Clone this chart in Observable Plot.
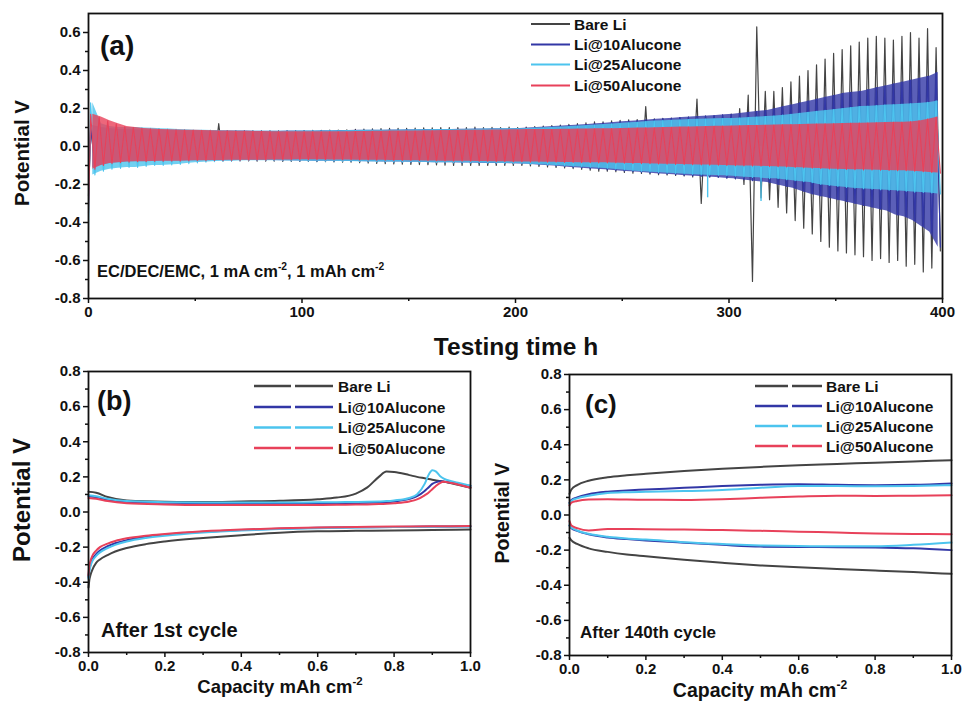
<!DOCTYPE html>
<html><head><meta charset="utf-8">
<script src="https://cdn.jsdelivr.net/npm/d3@7"></script>
<script src="https://cdn.jsdelivr.net/npm/@observablehq/plot@0.6"></script>
<style>
body{margin:0;background:#fff;}
#wrap{position:relative;width:962px;height:704px;overflow:hidden;background:#fff;font-family:"Liberation Sans",Arial,sans-serif;}
#wrap svg{position:absolute;}
</style></head><body><div id="wrap"></div>
<script>
// ---------- shared ----------
const seriesNames = ["Bare Li", "Li@10Alucone", "Li@25Alucone", "Li@50Alucone"];
const seriesColors = ["#444444", "#3237a6", "#4cc4ee", "#e8415a"];

// ---------- panel (a): peak potentials of each 4 h sampled cycle ----------
const cycleHours = 4;
const aStart = [-0.26, -0.30, -0.44, -0.35];
const aUpBare = [0.10,0.10,0.095,0.09,0.09,0.09,0.088,0.088,0.086,0.086,
  0.085,0.085,0.084,0.084,0.085,0.12,0.084,0.083,0.083,0.083,
  0.082,0.082,0.083,0.083,0.084,0.084,0.085,0.085,0.086,0.086,
  0.088,0.09,0.092,0.093,0.094,0.095,0.096,0.096,0.097,0.098,
  0.098,0.1,0.1,0.1,0.1,0.102,0.1,0.101,0.1,0.102,
  0.10,0.102,0.105,0.108,0.11,0.113,0.116,0.12,0.125,0.13,
  0.13,0.135,0.138,0.14,0.142,0.21,0.145,0.148,0.15,0.152,
  0.155,0.25,0.16,0.16,0.165,0.17,0.2,0.27,0.63,0.29,
  0.29,0.31,0.34,0.37,0.40,0.43,0.46,0.49,0.51,0.53,
  0.55,0.57,0.58,0.57,0.56,0.58,0.6,0.57,0.62,0.52];
const aLoBare = [-0.10,-0.09,-0.085,-0.085,-0.082,-0.08,-0.08,-0.08,-0.078,-0.078,
  -0.078,-0.077,-0.077,-0.076,-0.076,-0.076,-0.076,-0.076,-0.076,-0.077,
  -0.077,-0.077,-0.078,-0.078,-0.078,-0.079,-0.08,-0.08,-0.081,-0.082,
  -0.083,-0.085,-0.087,-0.089,-0.09,-0.092,-0.093,-0.094,-0.095,-0.096,
  -0.097,-0.098,-0.1,-0.1,-0.1,-0.1,-0.1,-0.1,-0.1,-0.1,
  -0.1,-0.102,-0.105,-0.108,-0.11,-0.113,-0.116,-0.12,-0.125,-0.13,
  -0.13,-0.133,-0.136,-0.14,-0.142,-0.145,-0.148,-0.15,-0.152,-0.155,
  -0.16,-0.30,-0.16,-0.16,-0.165,-0.17,-0.2,-0.71,-0.27,-0.28,
  -0.32,-0.35,-0.39,-0.43,-0.46,-0.5,-0.53,-0.55,-0.56,-0.57,
  -0.58,-0.6,-0.59,-0.61,-0.6,-0.63,-0.62,-0.66,-0.64,-0.55];
const aUp10 = [0.11,0.1,0.095,0.09,0.09,0.088,0.087,0.086,0.085,0.085,
  0.084,0.083,0.083,0.082,0.082,0.082,0.081,0.081,0.081,0.08,
  0.08,0.08,0.08,0.081,0.081,0.082,0.082,0.083,0.083,0.084,
  0.084,0.085,0.085,0.086,0.086,0.087,0.087,0.088,0.088,0.089,
  0.089,0.09,0.09,0.091,0.091,0.092,0.092,0.093,0.093,0.094,
  0.095,0.097,0.1,0.102,0.105,0.108,0.11,0.113,0.116,0.12,
  0.123,0.126,0.13,0.133,0.136,0.14,0.143,0.146,0.149,0.152,
  0.155,0.158,0.16,0.163,0.167,0.17,0.175,0.18,0.185,0.19,
  0.2,0.21,0.22,0.23,0.24,0.25,0.26,0.27,0.28,0.285,
  0.29,0.3,0.31,0.32,0.33,0.34,0.35,0.36,0.37,0.39];
const aLo10 = [-0.11,-0.1,-0.09,-0.085,-0.082,-0.08,-0.08,-0.078,-0.078,-0.077,
  -0.077,-0.076,-0.076,-0.075,-0.075,-0.075,-0.075,-0.074,-0.074,-0.074,
  -0.074,-0.074,-0.075,-0.075,-0.076,-0.076,-0.077,-0.077,-0.078,-0.078,
  -0.079,-0.079,-0.08,-0.08,-0.081,-0.082,-0.082,-0.083,-0.083,-0.084,
  -0.085,-0.085,-0.086,-0.087,-0.087,-0.088,-0.089,-0.09,-0.09,-0.091,
  -0.092,-0.094,-0.097,-0.1,-0.103,-0.106,-0.11,-0.113,-0.117,-0.12,
  -0.123,-0.126,-0.13,-0.133,-0.136,-0.14,-0.143,-0.146,-0.149,-0.152,
  -0.155,-0.158,-0.16,-0.163,-0.167,-0.17,-0.175,-0.18,-0.185,-0.19,
  -0.2,-0.21,-0.22,-0.235,-0.25,-0.26,-0.27,-0.28,-0.29,-0.3,
  -0.31,-0.32,-0.33,-0.34,-0.36,-0.37,-0.39,-0.42,-0.45,-0.53];
const aUp25 = [0.23,0.12,0.105,0.1,0.1,0.1,0.098,0.096,0.094,0.092,
  0.09,0.088,0.086,0.085,0.084,0.083,0.082,0.081,0.08,0.08,
  0.08,0.08,0.08,0.08,0.081,0.081,0.082,0.082,0.083,0.083,
  0.084,0.084,0.085,0.085,0.086,0.086,0.087,0.087,0.088,0.088,
  0.089,0.089,0.09,0.09,0.091,0.091,0.092,0.092,0.093,0.093,
  0.094,0.095,0.097,0.099,0.101,0.103,0.105,0.108,0.11,0.113,
  0.116,0.119,0.122,0.125,0.128,0.131,0.134,0.136,0.138,0.14,
  0.142,0.144,0.145,0.146,0.147,0.148,0.15,0.152,0.155,0.158,
  0.16,0.165,0.17,0.175,0.18,0.185,0.19,0.195,0.2,0.205,
  0.21,0.212,0.215,0.218,0.22,0.222,0.225,0.228,0.232,0.24];
const aLo25 = [-0.15,-0.13,-0.12,-0.115,-0.11,-0.11,-0.105,-0.1,-0.1,-0.097,
  -0.095,-0.09,-0.086,-0.083,-0.08,-0.078,-0.077,-0.076,-0.075,-0.075,
  -0.075,-0.075,-0.075,-0.076,-0.076,-0.077,-0.077,-0.078,-0.078,-0.079,
  -0.079,-0.08,-0.08,-0.081,-0.081,-0.082,-0.082,-0.083,-0.083,-0.084,
  -0.085,-0.085,-0.086,-0.086,-0.087,-0.087,-0.088,-0.088,-0.089,-0.09,
  -0.091,-0.093,-0.095,-0.097,-0.1,-0.102,-0.105,-0.108,-0.11,-0.113,
  -0.116,-0.12,-0.124,-0.128,-0.131,-0.134,-0.137,-0.14,-0.142,-0.145,
  -0.147,-0.15,-0.151,-0.152,-0.154,-0.156,-0.16,-0.163,-0.165,-0.17,
  -0.17,-0.175,-0.18,-0.185,-0.19,-0.2,-0.205,-0.21,-0.215,-0.22,
  -0.222,-0.225,-0.228,-0.23,-0.233,-0.236,-0.24,-0.242,-0.245,-0.25];
// isolated single-cycle spikes of Li@25Alucone (time h, potential V)
const aSpikeT25 = [290, 315];
const aSpikeV25 = [-0.27, -0.29];
const aUp50 = [0.17,0.155,0.135,0.12,0.105,0.1,0.095,0.092,0.09,0.088,
  0.087,0.086,0.085,0.084,0.083,0.082,0.081,0.08,0.08,0.079,
  0.079,0.078,0.078,0.078,0.077,0.077,0.077,0.077,0.078,0.078,
  0.078,0.079,0.079,0.08,0.08,0.081,0.081,0.082,0.082,0.083,
  0.083,0.084,0.084,0.085,0.085,0.086,0.086,0.087,0.087,0.088,
  0.088,0.089,0.089,0.09,0.09,0.091,0.091,0.092,0.092,0.093,
  0.093,0.094,0.095,0.096,0.097,0.098,0.099,0.1,0.101,0.102,
  0.103,0.104,0.105,0.106,0.107,0.108,0.109,0.11,0.111,0.112,
  0.113,0.114,0.115,0.116,0.117,0.118,0.119,0.12,0.121,0.122,
  0.123,0.124,0.125,0.126,0.127,0.128,0.13,0.135,0.145,0.155];
const aLo50 = [-0.12,-0.1,-0.09,-0.085,-0.082,-0.08,-0.08,-0.079,-0.078,-0.077,
  -0.077,-0.076,-0.075,-0.075,-0.074,-0.074,-0.073,-0.073,-0.072,-0.072,
  -0.072,-0.071,-0.071,-0.071,-0.07,-0.07,-0.07,-0.07,-0.071,-0.071,
  -0.071,-0.072,-0.072,-0.073,-0.073,-0.074,-0.074,-0.075,-0.075,-0.076,
  -0.076,-0.077,-0.077,-0.078,-0.078,-0.079,-0.079,-0.08,-0.08,-0.081,
  -0.081,-0.082,-0.082,-0.083,-0.083,-0.084,-0.084,-0.085,-0.085,-0.086,
  -0.086,-0.087,-0.088,-0.089,-0.09,-0.091,-0.092,-0.093,-0.094,-0.095,
  -0.096,-0.097,-0.098,-0.099,-0.1,-0.101,-0.102,-0.103,-0.104,-0.105,
  -0.106,-0.108,-0.11,-0.112,-0.114,-0.116,-0.118,-0.12,-0.121,-0.122,
  -0.123,-0.124,-0.125,-0.126,-0.127,-0.128,-0.13,-0.133,-0.137,-0.14];
const aUps = [aUpBare, aUp10, aUp25, aUp50];
const aLos = [aLoBare, aLo10, aLo25, aLo50];
const aXTicks = [0, 100, 200, 300, 400];
const aXMinor = [50, 150, 250, 350];
const aYTicks = [-0.8, -0.6, -0.4, -0.2, 0, 0.2, 0.4, 0.6];
const aYMinor = [-0.7, -0.5, -0.3, -0.1, 0.1, 0.3, 0.5];

// ---------- panel (b): after 1st cycle ----------
const bCapUp = [0,0.02,0.05,0.1,0.2,0.3,0.4,0.5,0.6,0.65,0.7,0.73,0.76,0.78,0.8,0.84,0.86,0.88,0.89,0.9,0.91,0.92,0.93,0.95,0.97,1.0];
const bUpBare = [0.115,0.11,0.085,0.065,0.058,0.057,0.06,0.064,0.073,0.082,0.105,0.14,0.2,0.23,0.228,0.21,0.2,0.192,0.188,0.184,0.18,0.177,0.173,0.163,0.153,0.138];
const bUp10 = [0.09,0.085,0.07,0.058,0.052,0.05,0.05,0.05,0.05,0.05,0.051,0.052,0.054,0.056,0.06,0.075,0.09,0.12,0.14,0.16,0.17,0.175,0.173,0.168,0.16,0.148];
const bUp25 = [0.095,0.09,0.075,0.062,0.056,0.054,0.054,0.054,0.055,0.056,0.057,0.058,0.06,0.062,0.066,0.08,0.1,0.16,0.21,0.238,0.23,0.205,0.19,0.175,0.165,0.15];
const bUp50 = [0.08,0.075,0.062,0.05,0.043,0.04,0.04,0.04,0.04,0.041,0.042,0.043,0.045,0.047,0.05,0.06,0.072,0.095,0.11,0.13,0.15,0.165,0.172,0.165,0.155,0.138];
const bCapLo = [0,0.002,0.005,0.01,0.02,0.03,0.05,0.07,0.1,0.15,0.2,0.3,0.4,0.5,0.6,0.7,0.8,0.9,1.0];
const bLoBare = [-0.43,-0.39,-0.36,-0.33,-0.29,-0.27,-0.245,-0.225,-0.205,-0.183,-0.168,-0.148,-0.132,-0.118,-0.11,-0.107,-0.105,-0.103,-0.1];
const bLo10 = [-0.37,-0.33,-0.3,-0.27,-0.24,-0.22,-0.195,-0.178,-0.16,-0.142,-0.13,-0.113,-0.102,-0.095,-0.09,-0.087,-0.085,-0.083,-0.081];
const bLo25 = [-0.38,-0.34,-0.31,-0.28,-0.25,-0.23,-0.205,-0.187,-0.168,-0.148,-0.135,-0.117,-0.105,-0.097,-0.092,-0.088,-0.086,-0.084,-0.082];
const bLo50 = [-0.36,-0.31,-0.28,-0.25,-0.22,-0.2,-0.18,-0.165,-0.15,-0.135,-0.125,-0.11,-0.1,-0.093,-0.088,-0.085,-0.083,-0.081,-0.08];

// ---------- panel (c): after 140th cycle ----------
const cCap = [0,0.005,0.02,0.05,0.1,0.15,0.2,0.3,0.4,0.5,0.6,0.7,0.8,0.9,1.0];
const cUpBare = [0.12,0.145,0.17,0.195,0.215,0.226,0.235,0.25,0.263,0.274,0.283,0.29,0.298,0.305,0.312];
const cLoBare = [-0.13,-0.145,-0.165,-0.19,-0.21,-0.225,-0.235,-0.255,-0.272,-0.287,-0.298,-0.307,-0.316,-0.325,-0.335];
const cUp10 = [0.07,0.085,0.1,0.118,0.133,0.14,0.145,0.155,0.165,0.172,0.175,0.172,0.17,0.172,0.18];
const cLo10 = [-0.06,-0.075,-0.09,-0.11,-0.128,-0.137,-0.145,-0.158,-0.17,-0.18,-0.182,-0.183,-0.185,-0.19,-0.2];
const cUp25 = [0.065,0.08,0.095,0.11,0.125,0.13,0.132,0.136,0.142,0.155,0.165,0.165,0.163,0.165,0.17];
const cLo25 = [-0.06,-0.072,-0.088,-0.107,-0.124,-0.134,-0.14,-0.155,-0.165,-0.173,-0.177,-0.178,-0.178,-0.17,-0.157];
const cUp50 = [0.055,0.07,0.08,0.088,0.09,0.088,0.087,0.086,0.09,0.098,0.105,0.11,0.108,0.11,0.112];
const cLo50 = [-0.035,-0.06,-0.075,-0.088,-0.08,-0.08,-0.081,-0.083,-0.086,-0.09,-0.095,-0.1,-0.105,-0.108,-0.11];

const capTicks = [0, 0.2, 0.4, 0.6, 0.8, 1.0];
const capMinor = [0.1, 0.3, 0.5, 0.7, 0.9];
const bcYTicks = [-0.8, -0.6, -0.4, -0.2, 0, 0.2, 0.4, 0.6, 0.8];
const bcYMinor = [-0.7, -0.5, -0.3, -0.1, 0.1, 0.3, 0.5, 0.7];

// ---------- build ----------
const FONT = '"Liberation Sans", Arial, Helvetica, sans-serif';
const wrap = document.getElementById("wrap");
const fmt1 = d => d.toFixed(1);

function axes(xT, xM, yT, yM, xFmt) {
  return [
    Plot.axisX(xM, {tickSize: 3, tickFormat: () => "", label: null, strokeWidth: 1.5}),
    Plot.axisX(xT, {tickSize: 5, tickPadding: 3, tickFormat: xFmt, label: null, strokeWidth: 1.5}),
    Plot.axisY(yM, {tickSize: 3, tickFormat: () => "", label: null, strokeWidth: 1.5}),
    Plot.axisY(yT, {tickSize: 5, tickPadding: 3, tickFormat: fmt1, label: null, strokeWidth: 1.5}),
    Plot.frame({stroke: "#111", strokeWidth: 1.8})
  ];
}
const plotStyle = {fontFamily: FONT, fontSize: "15px", fontWeight: "bold", color: "#111", background: "transparent", overflow: "visible"};

// panel a: dense cycling bands (envelope fill) + peak-to-peak trace
const aMarks = [];
seriesNames.forEach((name, k) => {
  const rows = [{t: 0, v: aStart[k]}];
  const band = [];
  aUps[k].forEach((u, i) => {
    rows.push({t: i * cycleHours + 1, v: u});
    rows.push({t: i * cycleHours + 3, v: aLos[k][i]});
    band.push({t: i * cycleHours + 2, up: u, lo: aLos[k][i]});
  });
  if (k > 0) aMarks.push(Plot.areaY(band, {x: "t", y1: "lo", y2: "up", fill: seriesColors[k], fillOpacity: 0.8}));
  aMarks.push(Plot.line(rows, {x: "t", y: "v", stroke: seriesColors[k], strokeWidth: k === 0 ? 1.2 : 1.1}));
  if (k === 2) aMarks.push(Plot.ruleX(aSpikeT25.map((t, i) => ({t, v: aSpikeV25[i]})),
    {x: "t", y1: 0, y2: "v", stroke: seriesColors[k], strokeWidth: 1.4}));
});
const plotA = Plot.plot({
  width: 962, height: 330, marginLeft: 88, marginRight: 20, marginTop: 13, marginBottom: 32,
  x: {domain: [0, 400]}, y: {domain: [-0.8, 0.7]},
  style: plotStyle,
  marks: [...aMarks, ...axes(aXTicks, aXMinor, aYTicks, aYMinor, d => String(d))]
});
plotA.style.left = "0px"; plotA.style.top = "0px";
wrap.appendChild(plotA);

function branchLines(cap, arrays) {
  return arrays.map((arr, k) => Plot.line(cap.map((c, i) => ({c, v: arr[i]})),
    {x: "c", y: "v", stroke: seriesColors[k], strokeWidth: 2, curve: "monotone-x"}));
}

// panel b
const plotB = Plot.plot({
  width: 480, height: 327, marginLeft: 88, marginRight: 10, marginTop: 21, marginBottom: 25,
  x: {domain: [0, 1]}, y: {domain: [-0.8, 0.8]},
  style: plotStyle,
  marks: [
    ...branchLines(bCapLo, [bLoBare, bLo10, bLo25, bLo50]),
    ...branchLines(bCapUp, [bUpBare, bUp10, bUp25, bUp50]),
    ...axes(capTicks, capMinor, bcYTicks, bcYMinor, fmt1)
  ]
});
plotB.style.left = "0px"; plotB.style.top = "350px";
wrap.appendChild(plotB);

// panel c
const plotC = Plot.plot({
  width: 482, height: 330, marginLeft: 89, marginRight: 11, marginTop: 24, marginBottom: 25,
  x: {domain: [0, 1]}, y: {domain: [-0.8, 0.8]},
  style: plotStyle,
  marks: [
    ...branchLines(cCap, [cLoBare, cLo10, cLo25, cLo50]),
    ...branchLines(cCap, [cUpBare, cUp10, cUp25, cUp50]),
    ...axes(capTicks, capMinor, bcYTicks, bcYMinor, fmt1)
  ]
});
plotC.style.left = "480px"; plotC.style.top = "350px";
wrap.appendChild(plotC);

// ---------- overlay text, labels and legends ----------
const ov = d3.select(wrap).append("svg")
  .attr("width", 962).attr("height", 704)
  .style("left", "0px").style("top", "0px").style("pointer-events", "none")
  .attr("font-family", FONT).attr("font-weight", "bold").attr("fill", "#111");

function txt(x, y, size, parts, anchor = "start", rotate = 0) {
  const t = ov.append("text").attr("x", x).attr("y", y).attr("font-size", size)
    .attr("text-anchor", anchor);
  if (rotate) t.attr("transform", `rotate(${rotate},${x},${y})`);
  parts.forEach(p => {
    if (typeof p === "string") t.append("tspan").text(p);
    else t.append("tspan").attr("dy", p.dy).attr("font-size", p.size || null).text(p.s);
  });
  return t;
}
const sup = (s, size) => [{s, dy: -size * 0.42, size: size * 0.62}];
const unsup = (s, size) => ({s, dy: size * 0.42});

// panel a texts
txt(100, 55, 28, ["(a)"]);
txt(97, 277, 16.5, ["EC/DEC/EMC, 1 mA cm", ...sup("-2", 16.5), unsup(", 1 mAh cm", 16.5), ...sup("-2", 16.5)]);
txt(29, 153, 20.5, ["Potential V"], "middle", -90);
txt(516, 355, 24.5, ["Testing time h"], "middle");
// panel b texts
txt(97, 410, 27, ["(b)"]);
txt(101, 637, 20, ["After 1st cycle"]);
txt(30, 500, 24, ["Potential V"], "middle", -90);
txt(280, 693, 18.5, ["Capacity mAh cm", ...sup("-2", 18.5)], "middle");
// panel c texts
txt(585, 413, 26, ["(c)"]);
txt(580, 638, 17, ["After 140th cycle"]);
txt(509, 513, 19.5, ["Potential V"], "middle", -90);
txt(760, 697, 19.5, ["Capacity mAh cm", ...sup("-2", 19.5)], "middle");

// legends
function legend(segs, textX, rows, size, lw) {
  seriesNames.forEach((name, k) => {
    segs.forEach(([x1, x2]) => ov.append("line").attr("x1", x1).attr("x2", x2)
      .attr("y1", rows[k]).attr("y2", rows[k]).attr("stroke", seriesColors[k]).attr("stroke-width", lw));
    ov.append("text").attr("x", textX).attr("y", rows[k]).attr("dy", "0.36em")
      .attr("font-size", size).text(name);
  });
}
legend([[531, 570]], 574, [24, 44.5, 64.5, 85.5], 15.5, 2);
legend([[254, 291], [295, 333]], 338, [386, 407, 427.5, 448], 15.5, 2.5);
legend([[755, 788], [792, 822]], 826, [386, 406, 426, 446], 15.5, 2.5);
</script></body></html>
